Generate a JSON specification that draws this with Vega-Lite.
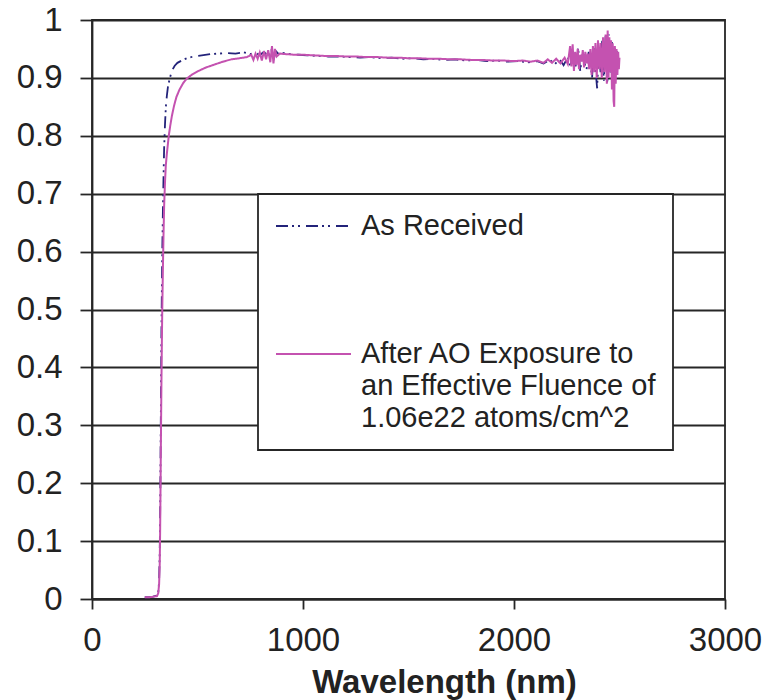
{
  "$schema": "https://vega.github.io/schema/vega-lite/v6.json",
  "width": 633,
  "height": 579,
  "autosize": {"type": "none"},
  "padding": {"left": 92, "top": 20, "right": 43, "bottom": 101},
  "background": "white",
  "config": {
    "font": "Liberation Sans",
    "view": {"stroke": "#262626", "strokeWidth": 1.8},
    "legend": {
      "orient": "none",
      "legendX": 166,
      "legendY": 174,
      "padding": 17,
      "strokeColor": "#262626",
      "strokeWidth": 1.8,
      "fillColor": "white",
      "symbolType": "stroke",
      "symbolSize": 5625,
      "symbolStrokeWidth": 1.8,
      "labelFontSize": 29,
      "labelFont": "Liberation Sans",
      "labelColor": "#222222",
      "labelOffset": 9,
      "labelLimit": 600,
      "clipHeight": 30,
      "rowPadding": 2,
      "cornerRadius": 0
    }
  },
  "data": {"values": [
    {"s":"As Received","w":250,"r":0.003},{"s":"As Received","w":270,"r":0.003},{"s":"As Received","w":290,"r":0.004},{"s":"As Received","w":308,"r":0.006},{"s":"As Received","w":314,"r":0.012},{"s":"As Received","w":318,"r":0.03},{"s":"As Received","w":321,"r":0.08},{"s":"As Received","w":323,"r":0.15},{"s":"As Received","w":325,"r":0.25},{"s":"As Received","w":327,"r":0.36},{"s":"As Received","w":329,"r":0.46},{"s":"As Received","w":331,"r":0.53},{"s":"As Received","w":333,"r":0.6},{"s":"As Received","w":336,"r":0.67},{"s":"As Received","w":339,"r":0.73},{"s":"As Received","w":342,"r":0.78},{"s":"As Received","w":346,"r":0.82},{"s":"As Received","w":350,"r":0.85},{"s":"As Received","w":355,"r":0.87},{"s":"As Received","w":360,"r":0.885},{"s":"As Received","w":366,"r":0.895},{"s":"As Received","w":373,"r":0.905},{"s":"As Received","w":381,"r":0.914},{"s":"As Received","w":392,"r":0.921},{"s":"As Received","w":405,"r":0.926},{"s":"As Received","w":425,"r":0.93},{"s":"As Received","w":450,"r":0.934},{"s":"As Received","w":480,"r":0.937},{"s":"As Received","w":520,"r":0.939},{"s":"As Received","w":560,"r":0.941},{"s":"As Received","w":600,"r":0.942},{"s":"As Received","w":640,"r":0.943},{"s":"As Received","w":680,"r":0.942},{"s":"As Received","w":720,"r":0.944},{"s":"As Received","w":750,"r":0.941},{"s":"As Received","w":775,"r":0.944},{"s":"As Received","w":795,"r":0.939},{"s":"As Received","w":815,"r":0.945},{"s":"As Received","w":835,"r":0.937},{"s":"As Received","w":850,"r":0.948},{"s":"As Received","w":862,"r":0.934},{"s":"As Received","w":872,"r":0.946},{"s":"As Received","w":885,"r":0.941},{"s":"As Received","w":905,"r":0.943},{"s":"As Received","w":940,"r":0.941},{"s":"As Received","w":980,"r":0.94},{"s":"As Received","w":1020,"r":0.939},{"s":"As Received","w":1070,"r":0.938},{"s":"As Received","w":1120,"r":0.937},{"s":"As Received","w":1170,"r":0.937},{"s":"As Received","w":1220,"r":0.936},{"s":"As Received","w":1270,"r":0.935},{"s":"As Received","w":1320,"r":0.936},{"s":"As Received","w":1370,"r":0.934},{"s":"As Received","w":1420,"r":0.935},{"s":"As Received","w":1470,"r":0.933},{"s":"As Received","w":1520,"r":0.934},{"s":"As Received","w":1570,"r":0.932},{"s":"As Received","w":1620,"r":0.933},{"s":"As Received","w":1670,"r":0.931},{"s":"As Received","w":1720,"r":0.932},{"s":"As Received","w":1770,"r":0.93},{"s":"As Received","w":1820,"r":0.931},{"s":"As Received","w":1870,"r":0.929},{"s":"As Received","w":1920,"r":0.93},{"s":"As Received","w":1970,"r":0.928},{"s":"As Received","w":2020,"r":0.929},{"s":"As Received","w":2070,"r":0.927},{"s":"As Received","w":2110,"r":0.929},{"s":"As Received","w":2140,"r":0.925},{"s":"As Received","w":2170,"r":0.931},{"s":"As Received","w":2195,"r":0.924},{"s":"As Received","w":2215,"r":0.933},{"s":"As Received","w":2235,"r":0.922},{"s":"As Received","w":2255,"r":0.936},{"s":"As Received","w":2268,"r":0.918},{"s":"As Received","w":2280,"r":0.948},{"s":"As Received","w":2292,"r":0.92},{"s":"As Received","w":2304,"r":0.952},{"s":"As Received","w":2314,"r":0.912},{"s":"As Received","w":2324,"r":0.942},{"s":"As Received","w":2334,"r":0.925},{"s":"As Received","w":2344,"r":0.915},{"s":"As Received","w":2354,"r":0.945},{"s":"As Received","w":2362,"r":0.928},{"s":"As Received","w":2370,"r":0.9},{"s":"As Received","w":2378,"r":0.952},{"s":"As Received","w":2386,"r":0.915},{"s":"As Received","w":2394,"r":0.882},{"s":"As Received","w":2402,"r":0.948},{"s":"As Received","w":2410,"r":0.91},{"s":"As Received","w":2418,"r":0.965},{"s":"As Received","w":2426,"r":0.895},{"s":"As Received","w":2434,"r":0.972},{"s":"As Received","w":2442,"r":0.888},{"s":"As Received","w":2450,"r":0.975},{"s":"As Received","w":2457,"r":0.905},{"s":"As Received","w":2464,"r":0.962},{"s":"As Received","w":2470,"r":0.895},{"s":"As Received","w":2476,"r":0.955},{"s":"As Received","w":2482,"r":0.912},{"s":"As Received","w":2488,"r":0.947},{"s":"As Received","w":2494,"r":0.918},{"s":"As Received","w":2500,"r":0.935},
    {"s":"After AO","w":250,"r":0.003},{"s":"After AO","w":270,"r":0.003},{"s":"After AO","w":290,"r":0.004},{"s":"After AO","w":308,"r":0.005},{"s":"After AO","w":314,"r":0.01},{"s":"After AO","w":318,"r":0.025},{"s":"After AO","w":321,"r":0.06},{"s":"After AO","w":323,"r":0.12},{"s":"After AO","w":325,"r":0.2},{"s":"After AO","w":327,"r":0.29},{"s":"After AO","w":329,"r":0.37},{"s":"After AO","w":331,"r":0.44},{"s":"After AO","w":333,"r":0.5},{"s":"After AO","w":336,"r":0.57},{"s":"After AO","w":339,"r":0.63},{"s":"After AO","w":342,"r":0.68},{"s":"After AO","w":346,"r":0.72},{"s":"After AO","w":350,"r":0.75},{"s":"After AO","w":355,"r":0.77},{"s":"After AO","w":360,"r":0.787},{"s":"After AO","w":365,"r":0.803},{"s":"After AO","w":371,"r":0.818},{"s":"After AO","w":379,"r":0.835},{"s":"After AO","w":389,"r":0.852},{"s":"After AO","w":400,"r":0.867},{"s":"After AO","w":415,"r":0.88},{"s":"After AO","w":432,"r":0.891},{"s":"After AO","w":450,"r":0.899},{"s":"After AO","w":475,"r":0.906},{"s":"After AO","w":505,"r":0.912},{"s":"After AO","w":540,"r":0.918},{"s":"After AO","w":580,"r":0.923},{"s":"After AO","w":620,"r":0.928},{"s":"After AO","w":660,"r":0.932},{"s":"After AO","w":700,"r":0.934},{"s":"After AO","w":735,"r":0.936},{"s":"After AO","w":755,"r":0.94},{"s":"After AO","w":765,"r":0.931},{"s":"After AO","w":775,"r":0.942},{"s":"After AO","w":785,"r":0.933},{"s":"After AO","w":795,"r":0.944},{"s":"After AO","w":805,"r":0.93},{"s":"After AO","w":815,"r":0.946},{"s":"After AO","w":825,"r":0.932},{"s":"After AO","w":835,"r":0.948},{"s":"After AO","w":845,"r":0.927},{"s":"After AO","w":853,"r":0.955},{"s":"After AO","w":860,"r":0.925},{"s":"After AO","w":867,"r":0.95},{"s":"After AO","w":875,"r":0.937},{"s":"After AO","w":890,"r":0.942},{"s":"After AO","w":920,"r":0.941},{"s":"After AO","w":960,"r":0.94},{"s":"After AO","w":1000,"r":0.94},{"s":"After AO","w":1050,"r":0.939},{"s":"After AO","w":1100,"r":0.938},{"s":"After AO","w":1150,"r":0.938},{"s":"After AO","w":1200,"r":0.937},{"s":"After AO","w":1250,"r":0.937},{"s":"After AO","w":1300,"r":0.936},{"s":"After AO","w":1350,"r":0.936},{"s":"After AO","w":1400,"r":0.935},{"s":"After AO","w":1450,"r":0.935},{"s":"After AO","w":1500,"r":0.934},{"s":"After AO","w":1550,"r":0.934},{"s":"After AO","w":1600,"r":0.933},{"s":"After AO","w":1650,"r":0.933},{"s":"After AO","w":1700,"r":0.932},{"s":"After AO","w":1750,"r":0.932},{"s":"After AO","w":1800,"r":0.931},{"s":"After AO","w":1850,"r":0.931},{"s":"After AO","w":1900,"r":0.93},{"s":"After AO","w":1950,"r":0.93},{"s":"After AO","w":2000,"r":0.929},{"s":"After AO","w":2040,"r":0.93},{"s":"After AO","w":2080,"r":0.928},{"s":"After AO","w":2110,"r":0.93},{"s":"After AO","w":2140,"r":0.926},{"s":"After AO","w":2160,"r":0.932},{"s":"After AO","w":2180,"r":0.926},{"s":"After AO","w":2200,"r":0.933},{"s":"After AO","w":2220,"r":0.925},{"s":"After AO","w":2240,"r":0.935},{"s":"After AO","w":2255,"r":0.924},{"s":"After AO","w":2266,"r":0.955},{"s":"After AO","w":2272,"r":0.92},{"s":"After AO","w":2278,"r":0.958},{"s":"After AO","w":2284,"r":0.912},{"s":"After AO","w":2290,"r":0.945},{"s":"After AO","w":2296,"r":0.922},{"s":"After AO","w":2302,"r":0.95},{"s":"After AO","w":2308,"r":0.915},{"s":"After AO","w":2314,"r":0.94},{"s":"After AO","w":2320,"r":0.928},{"s":"After AO","w":2326,"r":0.948},{"s":"After AO","w":2332,"r":0.918},{"s":"After AO","w":2338,"r":0.945},{"s":"After AO","w":2344,"r":0.925},{"s":"After AO","w":2350,"r":0.942},{"s":"After AO","w":2356,"r":0.915},{"s":"After AO","w":2362,"r":0.95},{"s":"After AO","w":2368,"r":0.905},{"s":"After AO","w":2374,"r":0.955},{"s":"After AO","w":2380,"r":0.91},{"s":"After AO","w":2386,"r":0.96},{"s":"After AO","w":2392,"r":0.9},{"s":"After AO","w":2398,"r":0.965},{"s":"After AO","w":2404,"r":0.915},{"s":"After AO","w":2410,"r":0.96},{"s":"After AO","w":2416,"r":0.9},{"s":"After AO","w":2422,"r":0.97},{"s":"After AO","w":2428,"r":0.91},{"s":"After AO","w":2434,"r":0.975},{"s":"After AO","w":2440,"r":0.89},{"s":"After AO","w":2444,"r":0.982},{"s":"After AO","w":2448,"r":0.9},{"s":"After AO","w":2452,"r":0.97},{"s":"After AO","w":2456,"r":0.91},{"s":"After AO","w":2460,"r":0.965},{"s":"After AO","w":2464,"r":0.88},{"s":"After AO","w":2468,"r":0.96},{"s":"After AO","w":2472,"r":0.86},{"s":"After AO","w":2475,"r":0.85},{"s":"After AO","w":2478,"r":0.955},{"s":"After AO","w":2482,"r":0.89},{"s":"After AO","w":2486,"r":0.95},{"s":"After AO","w":2490,"r":0.905},{"s":"After AO","w":2494,"r":0.945},{"s":"After AO","w":2497,"r":0.915},{"s":"After AO","w":2500,"r":0.935}
  ]},
  "encoding": {
    "x": {
      "field": "w", "type": "quantitative",
      "scale": {"domain": [0, 3000], "nice": false},
      "axis": {
        "title": "Wavelength (nm)", "values": [0, 1000, 2000, 3000], "format": "d",
        "grid": false, "tickSize": 10, "tickColor": "#262626", "tickWidth": 1.8,
        "domainColor": "#262626", "domainWidth": 1.8,
        "labelFontSize": 33, "labelColor": "#222222", "labelPadding": 15,
        "labelFlush": false, "labelOverlap": false,
        "titleFontSize": 33, "titleFontWeight": "bold", "titleColor": "#222222",
        "titleX": 352, "titleY": 93, "titleBaseline": "alphabetic", "titleAlign": "center"
      }
    },
    "y": {
      "field": "r", "type": "quantitative",
      "scale": {"domain": [0, 1], "nice": false},
      "axis": {
        "title": null, "values": [0, 0.1, 0.2, 0.3, 0.4, 0.5, 0.6, 0.7, 0.8, 0.9, 1], "format": "~g",
        "grid": true, "gridColor": "#262626", "gridWidth": 1.8, "gridOpacity": 1,
        "tickSize": 12, "tickColor": "#262626", "tickWidth": 1.8,
        "domainColor": "#262626", "domainWidth": 1.8,
        "labelFontSize": 33, "labelColor": "#222222", "labelPadding": 18,
        "labelFlush": false, "labelOverlap": false
      }
    },
    "color": {
      "field": "s", "type": "nominal",
      "scale": {
        "domain": ["As Received", " ", "  ", "   ", "After AO", "an Effective Fluence of", "1.06e22 atoms/cm^2"],
        "range": ["#23237A", "transparent", "transparent", "transparent", "#C452B0", "transparent", "transparent"]
      },
      "legend": {"title": null, "labelExpr": "datum.label == 'After AO' ? 'After AO Exposure to' : datum.label"}
    },
    "strokeDash": {
      "field": "s", "type": "nominal",
      "scale": {
        "domain": ["As Received", " ", "  ", "   ", "After AO", "an Effective Fluence of", "1.06e22 atoms/cm^2"],
        "range": [[12, 4, 2, 4, 2, 6], [1, 0], [1, 0], [1, 0], [1, 0], [1, 0], [1, 0]]
      },
      "legend": {"title": null, "labelExpr": "datum.label == 'After AO' ? 'After AO Exposure to' : datum.label"}
    }
  },
  "layer": [
    {"transform": [{"filter": "datum.s == 'As Received'"}], "mark": {"type": "line", "strokeWidth": 1.8}},
    {"transform": [{"filter": "datum.s == 'After AO'"}], "mark": {"type": "line", "strokeWidth": 2}}
  ]
}
